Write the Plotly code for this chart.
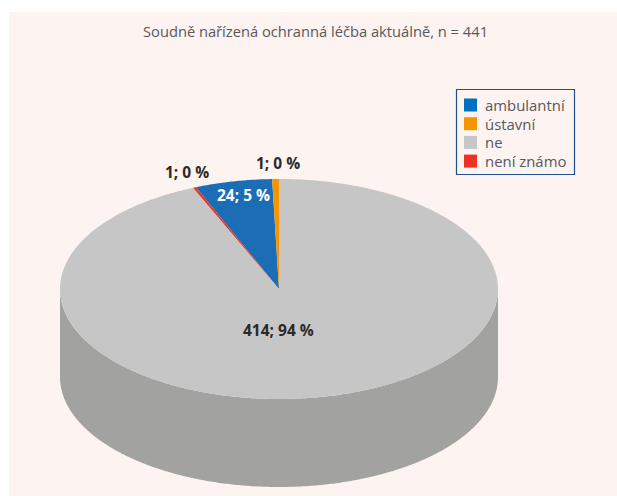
import numpy as np
import plotly.graph_objects as go

categories = ["ambulantní", "ústavní", "ne", "není známo"]
counts = [24, 1, 414, 1]
percents = [5, 0, 94, 0]
# slice sizes as they are drawn in the picture, in degrees
slice_degrees = [20.5, 1.8, 336.9, 0.8]
colors = ["#1B6DB5", "#F59600", "#C6C6C6", "#EE3124"]
legend_colors = ["#0070BF", "#F59600", "#C6C6C6", "#EE3124"]
title_text = "Soudně nařízená ochranná léčba aktuálně, n = 441"

W, H = 617, 496
PANEL = (9, 12, 617, 496)
CX, CY, RX, RY, DEPTH = 279, 289, 219, 110, 88
SIDE = "#A2A2A0"
BG = "#FDF3F1"
FONT = "Open Sans"


def rim(a0, a1):
    t = np.radians(np.linspace(a0, a1, max(2, int(abs(a1 - a0) * 2) + 2)))
    return CX + RX * np.sin(t), CY - RY * np.cos(t)


fig = go.Figure()

# cylinder wall
xs, ys = rim(90, 270)
fig.add_trace(go.Scatter(
    x=np.r_[xs, xs[::-1]], y=np.r_[ys, ys[::-1] + DEPTH],
    fill="toself", fillcolor=SIDE, mode="none", hoverinfo="skip", showlegend=False))

# top slices, clockwise, ending at 12 o'clock with the orange slice's end
start = -sum(slice_degrees[:2])
angles = np.r_[start, start + np.cumsum(slice_degrees)]
for i, name in enumerate(categories):
    xs, ys = rim(angles[i], angles[i + 1])
    fig.add_trace(go.Scatter(
        x=np.r_[CX, xs, CX], y=np.r_[CY, ys, CY], name=name,
        fill="toself", fillcolor=colors[i], mode="none", showlegend=False))

# slice labels
label_pos = [(243, 195, "white"), (278, 163, "#2b2a29"), (278, 330, "#2b2a29"), (187, 172, "#2b2a29")]
for c, p, (x, y, col) in zip(counts, percents, label_pos):
    fig.add_annotation(x=x, y=y, text=f"<b>{c}; {p} %</b>", showarrow=False,
                       font=dict(family=FONT, size=15.5, color=col))

# legend swatches and texts
LX, LY0, LSTEP = 470.5, 105, 18.7
for i, name in enumerate(categories):
    y = LY0 + i * LSTEP
    fig.add_shape(type="rect", x0=LX - 6.5, x1=LX + 6.5, y0=y - 6.5, y1=y + 6.5,
                  fillcolor=legend_colors[i], line_width=0)
    fig.add_annotation(x=483, y=y, text=name, xanchor="left", showarrow=False, height=16,
                       font=dict(family=FONT, size=14.9, color="#58595b"))
fig.add_shape(type="rect", x0=456.5, x1=574.5, y0=89.5, y1=174.5,
              fillcolor="rgba(0,0,0,0)", line=dict(color="#1F4E8C", width=1.2))

# panel
fig.add_shape(type="rect", x0=PANEL[0], x1=PANEL[2], y0=PANEL[1], y1=PANEL[3],
              fillcolor=BG, line_width=0, layer="below")

fig.add_annotation(x=315, y=31, text=title_text, showarrow=False,
                   font=dict(family=FONT, size=14.7, color="#58595b"))

fig.update_layout(
    width=W, height=H, margin=dict(l=0, r=0, t=0, b=0),
    paper_bgcolor="white", plot_bgcolor="white", showlegend=False,
    xaxis=dict(range=[0, W], visible=False, fixedrange=True),
    yaxis=dict(range=[H, 0], visible=False, fixedrange=True),
)
fig.write_html("out.html", config={"displayModeBar": False},
               post_script="document.body.style.margin='0';document.body.style.overflow='hidden';")
